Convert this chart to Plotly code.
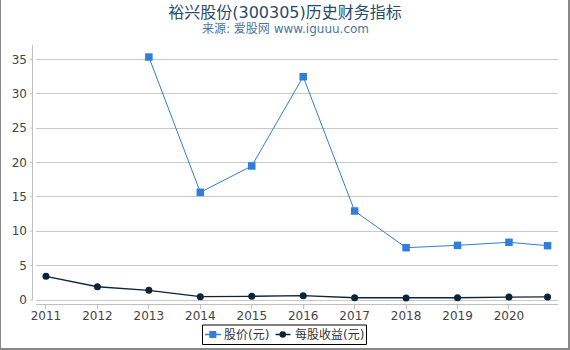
import plotly.graph_objects as go

# ---- data ----
years = [2011, 2012, 2013, 2014, 2015, 2016, 2017, 2018, 2019, 2020, 2020.75]
price = [None, None, 35.33, 15.66, 19.49, 32.47, 12.94, 7.61, 7.95, 8.39, 7.90]
eps = [3.45, 1.93, 1.41, 0.48, 0.54, 0.63, 0.33, 0.31, 0.33, 0.42, 0.45]
xtick_vals = [2011, 2012, 2013, 2014, 2015, 2016, 2017, 2018, 2019, 2020]
xtick_text = [str(v) for v in xtick_vals]
ytick_vals = [0, 5, 10, 15, 20, 25, 30, 35]
series_names = ["股价(元)", "每股收益(元)"]
title_text = "裕兴股份(300305)历史财务指标"
subtitle_text = "来源: 爱股网 www.iguuu.com"

W, H = 570, 350
L, R, T, B = 36, 558, 45, 304  # plot area in pixels
YMIN, YMAX = -0.58, 37.08
XMIN, XMAX = 2010.806, 2020.953

C1 = "#2f7ed8"
C2 = "#0d233a"
FONT = "DejaVu Sans, Noto Sans CJK SC, sans-serif"


def px(x):
    return (x - L) / (R - L)


def py(y):
    return (B - y) / (B - T)


fig = go.Figure()
fig.add_trace(go.Scatter(x=years, y=price, name=series_names[0], mode="lines+markers",
                         line=dict(color=C1, width=1), connectgaps=False,
                         marker=dict(symbol="square", size=7.5, color=C1)))
fig.add_trace(go.Scatter(x=years, y=eps, name=series_names[1], mode="lines+markers",
                         line=dict(color=C2, width=1.3),
                         marker=dict(symbol="circle", size=7, color=C2)))

shapes = []
# y axis line (ends at zero level)
shapes.append(dict(type="line", xref="paper", yref="y", x0=px(32.5), x1=px(32.5),
                   y0=0, y1=YMAX, line=dict(color="#c0c0c0", width=1)))
for v in ytick_vals:
    shapes.append(dict(type="line", xref="paper", yref="y", x0=px(30), x1=px(32.5),
                       y0=v, y1=v, line=dict(color="#c0c0c0", width=1)))
# legend box and symbols
shapes.append(dict(type="rect", xref="paper", yref="paper", x0=px(202.5), x1=px(366.5),
                   y0=py(325), y1=py(344.5), line=dict(color="#000000", width=1)))
shapes.append(dict(type="line", xref="paper", yref="paper", x0=px(205), x1=px(221),
                   y0=py(334.5), y1=py(334.5), line=dict(color=C1, width=1.5)))
shapes.append(dict(type="rect", xref="paper", yref="paper", x0=px(209.3), x1=px(216.3),
                   y0=py(331), y1=py(338), line=dict(width=0), fillcolor=C1))
shapes.append(dict(type="line", xref="paper", yref="paper", x0=px(275.5), x1=px(290.5),
                   y0=py(334.5), y1=py(334.5), line=dict(color=C2, width=1.5)))
shapes.append(dict(type="circle", xref="paper", yref="paper", x0=px(279.5), x1=px(286),
                   y0=py(331.3), y1=py(337.8), line=dict(width=0), fillcolor=C2))
# outer frame (left, right, bottom)
shapes.append(dict(type="line", xref="paper", yref="paper", x0=px(0.5), x1=px(0.5),
                   y0=py(0), y1=py(350), line=dict(color="#888888", width=1)))
shapes.append(dict(type="rect", xref="paper", yref="paper", x0=px(568), x1=px(570),
                   y0=py(0), y1=py(350), line=dict(width=0), fillcolor="#888888"))
shapes.append(dict(type="rect", xref="paper", yref="paper", x0=px(0), x1=px(570),
                   y0=py(348), y1=py(350), line=dict(width=0), fillcolor="#888888"))

annotations = [
    dict(text=subtitle_text, xref="paper", yref="paper", x=px(285), y=py(28.5),
         xanchor="center", yanchor="middle", showarrow=False,
         font=dict(family=FONT, size=12, color="#4d759e")),
    dict(text=series_names[0], xref="paper", yref="paper", x=px(221.5), y=py(334.8),
         xanchor="left", yanchor="middle", showarrow=False,
         font=dict(family=FONT, size=12, color="#333333")),
    dict(text=series_names[1], xref="paper", yref="paper", x=px(292.5), y=py(334.8),
         xanchor="left", yanchor="middle", showarrow=False,
         font=dict(family=FONT, size=12, color="#333333")),
]

fig.update_layout(
    width=W, height=H,
    margin=dict(l=L, r=W - R, t=T, b=H - B, pad=0),
    paper_bgcolor="white", plot_bgcolor="white",
    showlegend=False,
    title=dict(text=title_text, x=285 / W, xref="container", xanchor="center",
               y=1 - 12 / H, yref="container", yanchor="middle",
               font=dict(family=FONT, size=16, color="#274b6d")),
    font=dict(family=FONT, size=12, color="#444444"),
    shapes=shapes,
    annotations=annotations,
    hovermode=False,
)
fig.update_xaxes(range=[XMIN, XMAX], tickvals=xtick_vals, ticktext=xtick_text,
                 showgrid=False, zeroline=False, showline=True, linecolor="#c0c0c0",
                 linewidth=1, ticks="outside", ticklen=4, tickcolor="#c0c0c0",
                 ticklabelstandoff=-3,
                 tickfont=dict(family=FONT, size=12, color="#444444"))
fig.update_yaxes(range=[YMIN, YMAX], tickvals=ytick_vals, showgrid=True,
                 gridcolor="#c8c8c8", gridwidth=1, zeroline=False, showline=False,
                 ticks="", ticklabelstandoff=8,
                 tickfont=dict(family=FONT, size=12, color="#444444"))

fig.write_html("out.html")
